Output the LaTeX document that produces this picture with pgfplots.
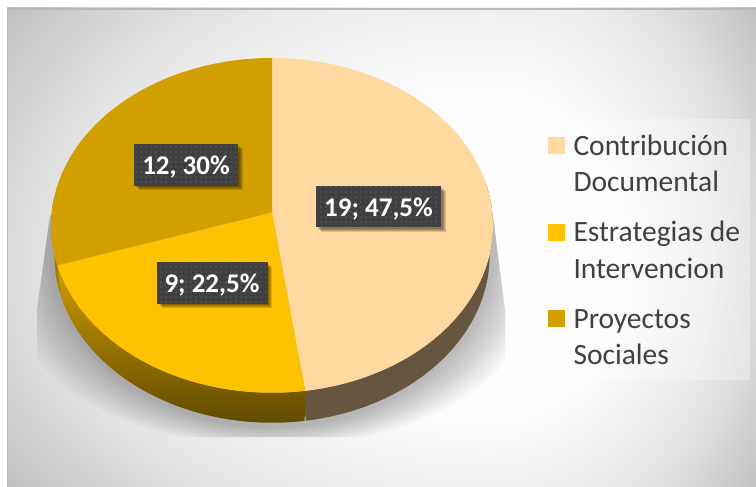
\documentclass[border=0pt]{standalone}
\usepackage{pgfplots}
\usepackage{pgfplotstable}
\usepackage{fontspec}
\setmainfont{Carlito}
\pgfplotsset{compat=1.18}
\usetikzlibrary{patterns.meta}
\definecolor{cream}{HTML}{FFD99F}
\definecolor{yel}{HTML}{FFC200}
\definecolor{gold}{HTML}{D29F00}
\definecolor{creamside}{HTML}{67563F}
\definecolor{goldside}{HTML}{A37C00}
\definecolor{lab}{HTML}{3F3F3F}
\definecolor{legtxt}{HTML}{404040}
\pgfdeclareradialshading{bg}{\pgfpointorigin}{
 color(0bp)=(white);
 color(10bp)=(white!98.5!black);
 color(16.67bp)=(white!92!black);
 color(20bp)=(white!86!black);
 color(25bp)=(white!75!black);
 color(50bp)=(white!75!black)}
\pgfplotstableread{
name value
Contribucion 19
Estrategias 9
Proyectos 12
}\piedata
\pgfplotstablegetelem{0}{value}\of\piedata\let\va\pgfplotsretval
\pgfplotstablegetelem{1}{value}\of\piedata\let\vb\pgfplotsretval
\pgfplotstablegetelem{2}{value}\of\piedata\let\vc\pgfplotsretval
\pgfmathsetmacro\angA{-90}
\pgfmathsetmacro\angB{\angA+360*\va/(\va+\vb+\vc)+1}
\pgfmathsetmacro\angC{\angA+360*(\va+\vb)/(\va+\vb+\vc)}
\pgfmathsetmacro\angD{270}
\pgfmathsetmacro\angBx{\angB+0.7}
\pgfmathsetmacro\angCx{\angC+1}
\newcommand\labelbox[6]{%
 \pgfplotsinvokeforeach{1,2,3,4}{%
  \fill[black,opacity=.14] (axis cs:#1+##1+1,#2+##1+1) rectangle (axis cs:#3+##1+0.5,#4+##1+0.5);}
 \fill[lab] (axis cs:#1,#2) rectangle (axis cs:#3,#4);
 \fill[pattern={Dots[distance=5pt,radius=.55pt,xshift=1pt]},pattern color=white!32!lab] (axis cs:#1,#2) rectangle (axis cs:#3,#4);
 \node[anchor=base,text=white,font=\fontsize{27}{27}\selectfont\bfseries,inner sep=0pt] at (axis cs:#5) {#6};
}
\newcommand\bgquad[8]{%
 \begin{scope}
 \clip (axis cs:#1,#2) rectangle (axis cs:#3,#4);
 \shade[shading=bg] (axis cs:#5-1.5*#7,#6-1.5*#8) rectangle (axis cs:#5+1.5*#7,#6+1.5*#8);
 \end{scope}
}
\begin{document}
\begin{tikzpicture}[x=1pt,y=1pt]
\begin{axis}[
 at={(0pt,0pt)},anchor=south west,scale only axis,width=756pt,height=487pt,
 xmin=0,xmax=756,ymin=0,ymax=487,y dir=reverse,hide axis,clip=true,
 declare function={
  pw(\t)=1-0.0768*sin(\t);
  PX(\t)=272+220.3*cos(\t)/pw(\t);
  PY(\t)=212.5+166.4*sin(\t)/pw(\t);
  BX(\t)=272+0.985*220.3*cos(\t)/pw(\t);
 },
 samples=91,no markers]
% panel
\bgquad{7}{8}{490}{270}{490}{270}{400}{300}
\bgquad{490}{8}{756}{270}{490}{270}{222}{300}
\bgquad{7}{270}{490}{487}{490}{270}{400}{250}
\bgquad{490}{270}{756}{487}{490}{270}{222}{250}
\fill[white!72!black] (axis cs:7,8) rectangle (axis cs:756,9.6);
\fill[white!72!black] (axis cs:7,8) rectangle (axis cs:8.2,487);
% shadow
\begin{scope}
\clip (axis cs:493,215) -- (axis cs:505,310) -- (axis cs:505,437) -- (axis cs:37,437) -- (axis cs:37,310) -- (axis cs:50,215) -- cycle;
\pgfplotsinvokeforeach{0,...,11}{
 \fill[black,opacity=.024] (axis cs:272,248+4.7*#1) ellipse [x radius={224pt+3pt*#1}, y radius={180pt-3pt*#1}];
}
\end{scope}
% sides
\addplot[fill=creamside,draw=none,variable=\t,domain=-10:2*\angBx+10,samples=181]
 ({\t<=\angBx?PX(\t):BX(2*\angBx-\t)},{PY(\t<=\angBx?\t:2*\angBx-\t)+(\t<=\angBx?0:30)});
\addplot[left color=yel!82!black,middle color=yel!50!black,right color=yel!38!black,shading angle=0,draw=none,variable=\t,domain=\angB:2*\angCx-\angB,samples=121]
 ({\t<=\angCx?PX(\t):BX(2*\angCx-\t)},{PY(\t<=\angCx?\t:2*\angCx-\t)+(\t<=\angCx?0:30)});
\addplot[fill=goldside,draw=none,variable=\t,domain=\angC:2*185-\angC,samples=41]
 ({\t<=185?PX(\t):BX(2*185-\t)},{PY(\t<=185?\t:2*185-\t)+(\t<=185?0:30)});
% top
\addplot[fill=cream,draw=none,variable=\t,domain=\angA:\angB,samples=121]
 ({PX(\t)},{PY(\t)}) -- (axis cs:272,212.5) -- cycle;
\addplot[fill=yel,draw=none,variable=\t,domain=\angB:\angC,samples=61]
 ({PX(\t)},{PY(\t)}) -- (axis cs:272,212.5) -- cycle;
\addplot[fill=gold,draw=none,variable=\t,domain=\angC:\angD,samples=81]
 ({PX(\t)},{PY(\t)}) -- (axis cs:272,212.5) -- cycle;
% labels
\labelbox{134}{144}{238}{185.7}{186,174}{12, 30\%}
\labelbox{316}{186}{441}{227}{378.5,216}{19; 47,5\%}
\labelbox{157}{262}{267.7}{303.7}{212,292.7}{9; 22,5\%}
% legend
\fill[white,opacity=.3] (axis cs:534,119) rectangle (axis cs:750,380);
\fill[cream] (axis cs:548,137) rectangle (axis cs:565,154);
\fill[yel] (axis cs:548,224) rectangle (axis cs:565,241);
\fill[gold] (axis cs:548,310) rectangle (axis cs:565,327);
\pgfplotsinvokeforeach{
 {155/Contribución},{191/Documental},{241.7/Estrategias de},{278/Intervencion},{328/Proyectos},{364/Sociales}}{
 \pgfplotsextra{\foreach \yy/\tt in {#1}{\node[anchor=base west,inner sep=0pt,text=legtxt,font=\fontsize{29.5}{29.5}\selectfont] at (axis cs:573.3,\yy) {\tt};}}
}
\end{axis}
\pgfresetboundingbox
\path[use as bounding box] (0pt,0pt) rectangle (756pt,487pt);
\end{tikzpicture}
\end{document}
